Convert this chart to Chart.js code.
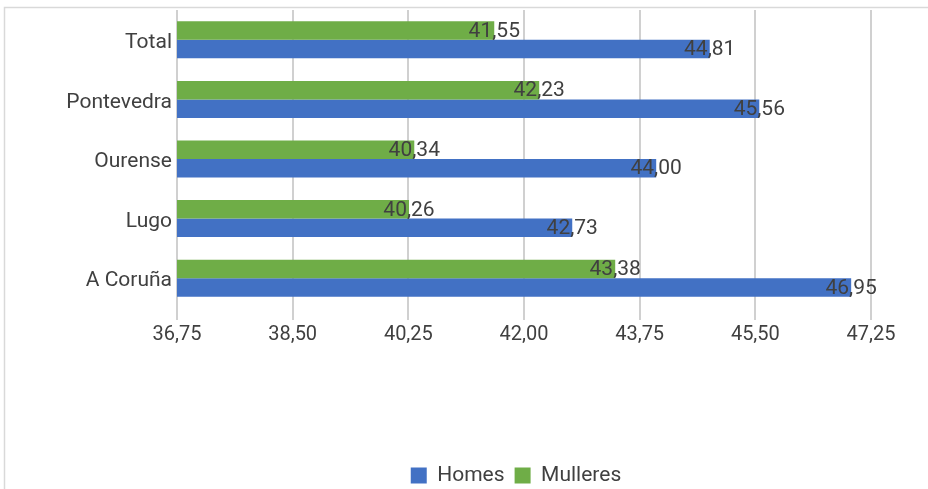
<!DOCTYPE html>
<html>
<head>
<meta charset="utf-8">
<script src="https://cdn.jsdelivr.net/npm/chart.js@4"></script>
<style>
  html, body { margin: 0; padding: 0; background: #fff; overflow: hidden; }
  #wrap { position: absolute; left: 0; top: 0; width: 1032px; height: 496px; }
</style>
</head>
<body>
<div id="wrap"><canvas id="chart"></canvas></div>
<script>
/* ===================== DATA ===================== */

const categories = ["Total", "Pontevedra", "Ourense", "Lugo", "A Coruña"];
const homes = [44.81, 45.56, 44.00, 42.73, 46.95];
const mulleres = [41.55, 42.23, 40.34, 40.26, 43.38];
const axisMin = 36.75;
const axisMax = 47.25;
const axisStep = 1.75;

const TEXT = "#404040";
const FONT = "Roboto, 'Liberation Sans', sans-serif";

const fmt = (v) => Number(v).toFixed(2).replace(".", ",");

/* ===================== PLUGINS ===================== */

// outer frame (top + left edges only, rest is cropped)
const framePlugin = {
  id: "frame",
  beforeDraw(chart) {
    const ctx = chart.ctx;
    ctx.save();
    ctx.strokeStyle = "#d9d9d9";
    ctx.lineWidth = 1.5;
    ctx.beginPath();
    ctx.moveTo(4.5, chart.height);
    ctx.lineTo(4.5, 7.5);
    ctx.lineTo(chart.width, 7.5);
    ctx.stroke();
    ctx.restore();
  },
};

// value labels centred on bar ends
const valueLabels = {
  id: "valueLabels",
  afterDatasetsDraw(chart) {
    const ctx = chart.ctx;
    ctx.save();
    ctx.font = `21px ${FONT}`;
    ctx.fillStyle = TEXT;
    ctx.textAlign = "center";
    ctx.textBaseline = "middle";
    chart.data.datasets.forEach((ds, i) => {
      const meta = chart.getDatasetMeta(i);
      meta.data.forEach((bar, j) => {
        ctx.fillText(fmt(ds.data[j]), bar.x, bar.y + 1);
      });
    });
    ctx.restore();
  },
};

/* ===================== CHART ===================== */

new Chart(document.getElementById("chart"), {
  type: "bar",
  data: {
    labels: categories,
    datasets: [
      {
        label: "Mulleres",
        data: mulleres,
        backgroundColor: "#6FAD47",
        borderWidth: 0,
      },
      {
        label: "Homes",
        data: homes,
        backgroundColor: "#4271C4",
        borderWidth: 0,
      },
    ],
  },
  options: {
    indexAxis: "y",
    responsive: true,
    maintainAspectRatio: false,
    animation: false,
    layout: { padding: { top: 10, right: 0, left: 0, bottom: 0 } },
    datasets: {
      bar: { categoryPercentage: 0.62, barPercentage: 1 },
    },
    plugins: {
      legend: {
        position: "bottom",
        reverse: true,
        labels: {
          color: TEXT,
          font: { family: FONT, size: 21 },
          boxWidth: 16,
          boxHeight: 16,
          padding: 10,
        },
      },
      tooltip: { enabled: false },
    },
    scales: {
      x: {
        min: axisMin,
        max: axisMax,
        ticks: {
          stepSize: axisStep,
          color: TEXT,
          font: { family: FONT, size: 20 },
          callback: (v) => fmt(v),
        },
        grid: {
          color: "#d0d0d0",
          lineWidth: 2,
          tickLength: 12,
        },
        border: { display: false },
        afterFit: (scale) => {
          scale.height = 147;
        },
      },
      y: {
        ticks: {
          color: TEXT,
          font: { family: FONT, size: 21 },
          padding: 5,
          labelOffset: 3,
        },
        grid: { display: false, drawTicks: false, tickLength: 0 },
        border: { display: false },
        afterFit: (scale) => {
          scale.width = 177;
          scale.paddingTop = 0;
          scale.paddingBottom = 0;
        },
      },
      // empty spacer on the right so the plot ends at x=871 while the legend stays centred
      spacer: {
        type: "category",
        position: "right",
        ticks: { display: false },
        grid: { display: false, drawTicks: false },
        border: { display: false },
        afterFit: (scale) => {
          scale.width = 161;
        },
      },
    },
  },
  plugins: [framePlugin, valueLabels],
});
</script>
</body>
</html>
